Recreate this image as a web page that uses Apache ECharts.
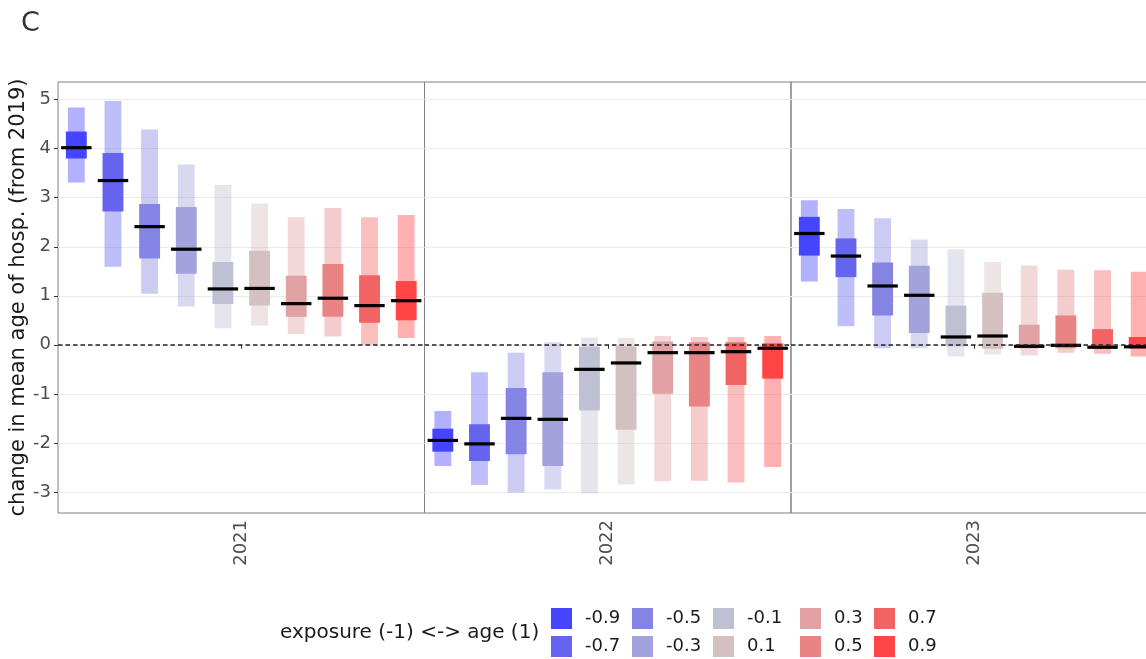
<!DOCTYPE html>
<html>
<head>
<meta charset="utf-8">
<script src="https://cdn.jsdelivr.net/npm/echarts@6/dist/echarts.min.js"></script>
<style>
html,body{margin:0;padding:0;background:#fff;overflow:hidden;width:1146px;height:659px;}
#chart{width:1160px;height:659px;}
</style>
</head>
<body>
<div id="chart"></div>
<script>
// ---- data ----
const years = ['2021', '2022', '2023'];
const levels = ['-0.9', '-0.7', '-0.5', '-0.3', '-0.1', '0.1', '0.3', '0.5', '0.7', '0.9'];
const levelColors = ['#4545ff', '#6464ee', '#8484e4', '#a2a2dc', '#c0c0d4', '#d4c0c0', '#e0a2a2', '#e88484', '#f26464', '#ff4545'];

const med2021  = [4.02, 3.35, 2.41, 1.95, 1.14, 1.15, 0.84, 0.95, 0.80, 0.90];
const lo50_2021 = [3.80, 2.72, 1.76, 1.45, 0.83, 0.80, 0.57, 0.57, 0.45, 0.50];
const hi50_2021 = [4.35, 3.91, 2.87, 2.81, 1.69, 1.92, 1.41, 1.65, 1.42, 1.30];
const lo95_2021 = [3.31, 1.59, 1.04, 0.78, 0.34, 0.39, 0.22, 0.17, 0.00, 0.14];
const hi95_2021 = [4.84, 4.97, 4.39, 3.68, 3.26, 2.88, 2.60, 2.79, 2.60, 2.65];

const med2022  = [-1.95, -2.02, -1.50, -1.52, -0.50, -0.37, -0.16, -0.16, -0.14, -0.07];
const lo50_2022 = [-2.18, -2.37, -2.23, -2.47, -1.34, -1.73, -1.00, -1.26, -0.82, -0.69];
const hi50_2022 = [-1.71, -1.62, -0.88, -0.56, -0.04, -0.03, 0.07, 0.05, 0.05, 0.03];
const lo95_2022 = [-2.47, -2.86, -3.01, -2.95, -3.03, -2.85, -2.78, -2.77, -2.81, -2.49];
const hi95_2022 = [-1.35, -0.56, -0.16, 0.05, 0.15, 0.14, 0.18, 0.16, 0.16, 0.18];

const med2023  = [2.27, 1.81, 1.20, 1.01, 0.16, 0.18, -0.03, -0.01, -0.05, -0.04];
const lo50_2023 = [1.82, 1.38, 0.60, 0.24, -0.03, -0.08, -0.07, -0.07, -0.07, -0.08];
const hi50_2023 = [2.61, 2.17, 1.68, 1.61, 0.80, 1.06, 0.41, 0.60, 0.32, 0.16];
const lo95_2023 = [1.29, 0.38, -0.07, -0.07, -0.24, -0.20, -0.22, -0.16, -0.18, -0.24];
const hi95_2023 = [2.95, 2.77, 2.58, 2.15, 1.95, 1.69, 1.62, 1.53, 1.52, 1.49];

const yMin = -3.43, yMax = 5.36;

// ---- build ----
const panels = [
  {med: med2021, lo50: lo50_2021, hi50: hi50_2021, lo95: lo95_2021, hi95: hi95_2021},
  {med: med2022, lo50: lo50_2022, hi50: hi50_2022, lo95: lo95_2022, hi95: hi95_2022},
  {med: med2023, lo50: lo50_2023, hi50: hi50_2023, lo95: lo95_2023, hi95: hi95_2023}
];

const FONT = 'DejaVu Sans';
const panelW = 366.5;
const gridLeft0 = 58;

function renderItem(params, api) {
  const x = api.value(0);
  const unit = api.size([1, 0])[0];
  const c = api.visual('color');
  const cx = api.coord([x, 0])[0];
  const t95 = api.coord([x, api.value(2)])[1];
  const b95 = api.coord([x, api.value(1)])[1];
  const t50 = api.coord([x, api.value(4)])[1];
  const b50 = api.coord([x, api.value(3)])[1];
  const ym = api.coord([x, api.value(5)])[1];
  const wOut = unit * 0.46, wIn = unit * 0.57, wMed = unit * 0.83;
  return {
    type: 'group',
    children: [
      {type: 'rect', shape: {x: cx - wOut / 2, y: t95, width: wOut, height: b95 - t95}, style: {fill: c, opacity: 0.42}},
      {type: 'rect', shape: {x: cx - wIn / 2, y: t50, width: wIn, height: b50 - t50}, style: {fill: c}},
      {type: 'rect', shape: {x: cx - wMed / 2, y: ym - 1.6, width: wMed, height: 3.2}, style: {fill: '#000'}}
    ]
  };
}

const grids = [], xAxes = [], yAxes = [], series = [];
years.forEach((yr, p) => {
  grids.push({
    left: gridLeft0 + p * panelW, top: 82, width: panelW, height: 431,
    show: true, borderColor: '#808080', borderWidth: 1, backgroundColor: 'transparent'
  });
  xAxes.push({
    gridIndex: p, type: 'value', min: 0, max: 10, interval: 5,
    axisLine: {show: false},
    axisTick: {show: true, length: 4, lineStyle: {color: '#333'}, customValues: [5]},
    axisLabel: {
      show: true, rotate: 90, fontFamily: FONT, fontSize: 18, color: '#4d4d4d', margin: 7,
      customValues: [5],
      formatter: (v) => (Math.abs(v - 5) < 1e-6 ? yr : '')
    },
    splitLine: {show: true, showMinLine: false, showMaxLine: false, lineStyle: {color: '#ebebeb', width: 1}}
  });
  yAxes.push({
    gridIndex: p, type: 'value', min: yMin, max: yMax, splitNumber: 9,
    axisLine: {show: false},
    axisTick: {show: p === 0, length: 4, lineStyle: {color: '#333'}},
    axisLabel: {
      show: p === 0, fontFamily: FONT, fontSize: 18, color: '#4d4d4d', margin: 7,
      showMinLabel: false, showMaxLabel: false
    },
    splitLine: {show: true, showMinLine: false, showMaxLine: false, lineStyle: {color: '#ebebeb', width: 1}},
    name: p === 0 ? 'change in mean age of hosp. (from 2019)' : '',
    nameLocation: 'middle', nameRotate: 90, nameGap: 27,
    nameTextStyle: {fontFamily: FONT, fontSize: 21, color: '#1a1a1a'}
  });
  const d = panels[p];
  levels.forEach((lv, i) => {
    series.push({
      name: lv, type: 'custom', xAxisIndex: p, yAxisIndex: p, z: 2,
      itemStyle: {color: levelColors[i]},
      renderItem: renderItem,
      encode: {x: 0, y: [1, 2, 3, 4, 5]},
      data: [[i + 0.5, d.lo95[i], d.hi95[i], d.lo50[i], d.hi50[i], d.med[i]]],
      silent: true
    });
  });
  series.push({
    type: 'line', xAxisIndex: p, yAxisIndex: p, data: [], z: 10, silent: true,
    markLine: {
      silent: true, symbol: ['none', 'none'], label: {show: false},
      lineStyle: {color: '#222', type: [4.5, 3], width: 1.5},
      data: [{yAxis: 0}]
    }
  });
});

const legendLefts = [551, 632, 713, 800, 874];
const legends = legendLefts.map((lx, k) => ({
  orient: 'vertical', left: lx, top: 608, padding: 0, height: 60,
  itemWidth: 21, itemHeight: 21, itemGap: 7, icon: 'rect',
  data: [levels[2 * k], levels[2 * k + 1]],
  textStyle: {fontFamily: FONT, fontSize: 18, color: '#1a1a1a', padding: [0, 0, 0, 8]},
  selectedMode: false
}));

const chart = echarts.init(document.getElementById('chart'), null, {renderer: 'canvas'});
chart.setOption({
  animation: false,
  backgroundColor: '#fff',
  title: {
    text: 'C', left: 16, top: 5,
    textStyle: {fontFamily: FONT, fontSize: 27, fontWeight: 'normal', color: '#333'}
  },
  graphic: [{
    type: 'text', left: 280, top: 623,
    style: {text: 'exposure (-1) <-> age (1)', fontFamily: FONT, fontSize: 20, fill: '#1a1a1a'}
  }],
  legend: legends,
  grid: grids,
  xAxis: xAxes,
  yAxis: yAxes,
  series: series
});
</script>
</body>
</html>
